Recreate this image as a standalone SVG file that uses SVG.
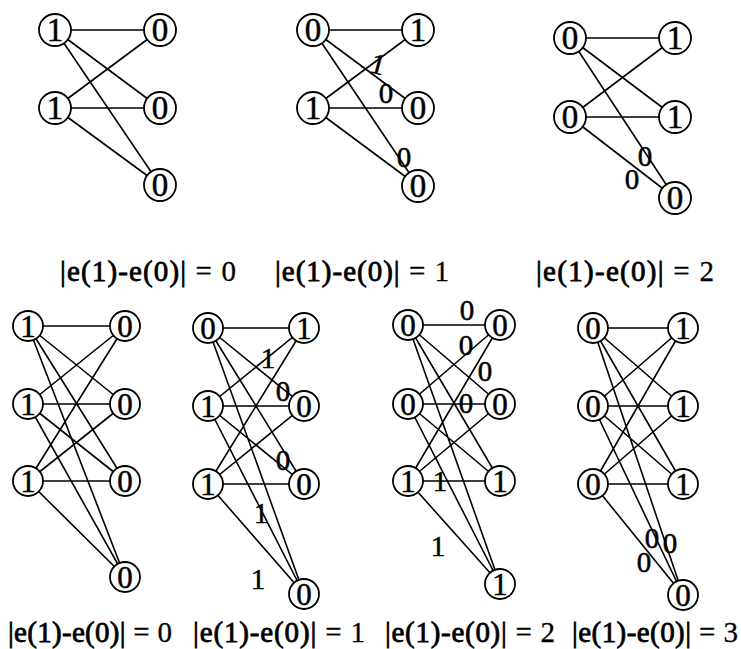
<svg xmlns="http://www.w3.org/2000/svg" width="741" height="649" viewBox="0 0 741 649">
<style>
.e{stroke:#000;stroke-width:1.6;fill:none}
.n circle{fill:#fff;stroke:#000;stroke-width:1.8}
.n text,.lb,.cap{font-family:"Liberation Serif","Times New Roman",serif;fill:#000;text-anchor:middle;stroke:#000;stroke-width:0.5}
.t text{font-size:33px}
.b text{font-size:31px}
.lb{font-size:29px}
.cap{font-size:29px;stroke-width:0.3}
.cap tspan{stroke-width:0.8}
</style>
<rect width="741" height="649" fill="#fff"/>
<g id="connectors">
<path class="e" d="M55 30L160 30M55 30L160 108M55 30L160 185M55 108L160 30M55 108L160 108M55 108L160 185"/>
<path class="e" d="M313 30L418 30M313 30L418 108M313 30L418 186M313 108L418 30M313 108L418 108M313 108L418 186"/>
<path class="e" d="M570 38L675 38M570 38L675 117M570 38L675 198M570 117L675 38M570 117L675 117M570 117L675 198"/>
<path class="e" d="M28 326L125 326M28 326L125 404M28 326L125 481M28 326L125 577M28 404L125 326M28 404L125 404M28 404L125 481M28 404L125 577M28 481L125 326M28 481L125 404M28 481L125 481M28 481L125 577"/>
<path class="e" d="M208 328L304 328M208 328L304 406M208 328L304 484M208 328L304 594M208 406L304 328M208 406L304 406M208 406L304 484M208 406L304 594M208 484L304 328M208 484L304 406M208 484L304 484M208 484L304 594"/>
<path class="e" d="M408 325L500 325M408 325L500 404M408 325L500 481M408 325L500 584M408 404L500 325M408 404L500 404M408 404L500 481M408 404L500 584M408 481L500 325M408 481L500 404M408 481L500 481M408 481L500 584"/>
<path class="e" d="M593 328L683 328M593 328L683 406M593 328L683 484M593 328L683 595M593 406L683 328M593 406L683 406M593 406L683 484M593 406L683 595M593 484L683 328M593 484L683 406M593 484L683 484M593 484L683 595"/>
</g>
<g id="graphA" class="t">
<g id="a-l1" class="n"><circle cx="55" cy="30" r="16"/><text x="55" y="41">1</text></g>
<g id="a-l2" class="n"><circle cx="55" cy="108" r="16"/><text x="55" y="119">1</text></g>
<g id="a-r1" class="n"><circle cx="160" cy="30" r="16"/><text x="160" y="41">0</text></g>
<g id="a-r2" class="n"><circle cx="160" cy="108" r="16"/><text x="160" y="119">0</text></g>
<g id="a-r3" class="n"><circle cx="160" cy="185" r="16"/><text x="160" y="196">0</text></g>
</g>
<g id="graphB" class="t">
<g id="b-l1" class="n"><circle cx="313" cy="30" r="16"/><text x="313" y="41">0</text></g>
<g id="b-l2" class="n"><circle cx="313" cy="108" r="16"/><text x="313" y="119">1</text></g>
<g id="b-r1" class="n"><circle cx="418" cy="30" r="16"/><text x="418" y="41">1</text></g>
<g id="b-r2" class="n"><circle cx="418" cy="108" r="16"/><text x="418" y="119">0</text></g>
<g id="b-r3" class="n"><circle cx="418" cy="186" r="16"/><text x="418" y="197">0</text></g>
</g>
<g id="graphC" class="t">
<g id="c-l1" class="n"><circle cx="570" cy="38" r="16"/><text x="570" y="49">0</text></g>
<g id="c-l2" class="n"><circle cx="570" cy="117" r="16"/><text x="570" y="128">0</text></g>
<g id="c-r1" class="n"><circle cx="675" cy="38" r="16"/><text x="675" y="49">1</text></g>
<g id="c-r2" class="n"><circle cx="675" cy="117" r="16"/><text x="675" y="128">1</text></g>
<g id="c-r3" class="n"><circle cx="675" cy="198" r="16"/><text x="675" y="209">0</text></g>
</g>
<g id="graphD" class="b">
<g id="d-l1" class="n"><circle cx="28" cy="326" r="15"/><text x="28" y="336.5">1</text></g>
<g id="d-l2" class="n"><circle cx="28" cy="404" r="15"/><text x="28" y="414.5">1</text></g>
<g id="d-l3" class="n"><circle cx="28" cy="481" r="15"/><text x="28" y="491.5">1</text></g>
<g id="d-r1" class="n"><circle cx="125" cy="326" r="15"/><text x="125" y="336.5">0</text></g>
<g id="d-r2" class="n"><circle cx="125" cy="404" r="15"/><text x="125" y="414.5">0</text></g>
<g id="d-r3" class="n"><circle cx="125" cy="481" r="15"/><text x="125" y="491.5">0</text></g>
<g id="d-r4" class="n"><circle cx="125" cy="577" r="15"/><text x="125" y="587.5">0</text></g>
</g>
<g id="graphE" class="b">
<g id="e-l1" class="n"><circle cx="208" cy="328" r="15"/><text x="208" y="338.5">0</text></g>
<g id="e-l2" class="n"><circle cx="208" cy="406" r="15"/><text x="208" y="416.5">1</text></g>
<g id="e-l3" class="n"><circle cx="208" cy="484" r="15"/><text x="208" y="494.5">1</text></g>
<g id="e-r1" class="n"><circle cx="304" cy="328" r="15"/><text x="304" y="338.5">1</text></g>
<g id="e-r2" class="n"><circle cx="304" cy="406" r="15"/><text x="304" y="416.5">0</text></g>
<g id="e-r3" class="n"><circle cx="304" cy="484" r="15"/><text x="304" y="494.5">0</text></g>
<g id="e-r4" class="n"><circle cx="304" cy="594" r="15"/><text x="304" y="604.5">0</text></g>
</g>
<g id="graphF" class="b">
<g id="f-l1" class="n"><circle cx="408" cy="325" r="15"/><text x="408" y="335.5">0</text></g>
<g id="f-l2" class="n"><circle cx="408" cy="404" r="15"/><text x="408" y="414.5">0</text></g>
<g id="f-l3" class="n"><circle cx="408" cy="481" r="15"/><text x="408" y="491.5">1</text></g>
<g id="f-r1" class="n"><circle cx="500" cy="325" r="15"/><text x="500" y="335.5">0</text></g>
<g id="f-r2" class="n"><circle cx="500" cy="404" r="15"/><text x="500" y="414.5">0</text></g>
<g id="f-r3" class="n"><circle cx="500" cy="481" r="15"/><text x="500" y="491.5">1</text></g>
<g id="f-r4" class="n"><circle cx="500" cy="584" r="15"/><text x="500" y="594.5">1</text></g>
</g>
<g id="graphG" class="b">
<g id="g-l1" class="n"><circle cx="593" cy="328" r="15"/><text x="593" y="338.5">0</text></g>
<g id="g-l2" class="n"><circle cx="593" cy="406" r="15"/><text x="593" y="416.5">0</text></g>
<g id="g-l3" class="n"><circle cx="593" cy="484" r="15"/><text x="593" y="494.5">0</text></g>
<g id="g-r1" class="n"><circle cx="683" cy="328" r="15"/><text x="683" y="338.5">1</text></g>
<g id="g-r2" class="n"><circle cx="683" cy="406" r="15"/><text x="683" y="416.5">1</text></g>
<g id="g-r3" class="n"><circle cx="683" cy="484" r="15"/><text x="683" y="494.5">1</text></g>
<g id="g-r4" class="n"><circle cx="683" cy="595" r="15"/><text x="683" y="605.5">0</text></g>
</g>
<g id="edge-labels">
<text class="lb" x="378" y="74" transform="rotate(15 378 64)">1</text>
<text class="lb" x="386" y="103">0</text>
<text class="lb" x="404" y="167">0</text>
<text class="lb" x="645" y="166">0</text>
<text class="lb" x="632" y="189">0</text>
<text class="lb" x="268" y="368">1</text>
<text class="lb" x="283" y="401">0</text>
<text class="lb" x="283" y="470">0</text>
<text class="lb" x="261" y="523">1</text>
<text class="lb" x="258" y="589">1</text>
<text class="lb" x="467" y="320">0</text>
<text class="lb" x="466" y="355">0</text>
<text class="lb" x="485" y="381">0</text>
<text class="lb" x="466" y="413">0</text>
<text class="lb" x="440" y="491">1</text>
<text class="lb" x="438" y="556">1</text>
<text class="lb" x="652" y="548">0</text>
<text class="lb" x="670" y="553">0</text>
<text class="lb" x="644" y="572">0</text>
</g>
<g id="captions">
<text class="cap" x="148" y="281" textLength="176"><tspan>|e(1)-e(0)|</tspan> = 0</text>
<text class="cap" x="362" y="281" textLength="174"><tspan>|e(1)-e(0)|</tspan> = 1</text>
<text class="cap" x="625" y="281" textLength="178"><tspan>|e(1)-e(0)|</tspan> = 2</text>
<text class="cap" x="90" y="642" textLength="164"><tspan>|e(1)-e(0)|</tspan> = 0</text>
<text class="cap" x="279" y="642" textLength="172"><tspan>|e(1)-e(0)|</tspan> = 1</text>
<text class="cap" x="470" y="642" textLength="170"><tspan>|e(1)-e(0)|</tspan> = 2</text>
<text class="cap" x="655" y="642" textLength="166"><tspan>|e(1)-e(0)|</tspan> = 3</text>
</g>
</svg>
